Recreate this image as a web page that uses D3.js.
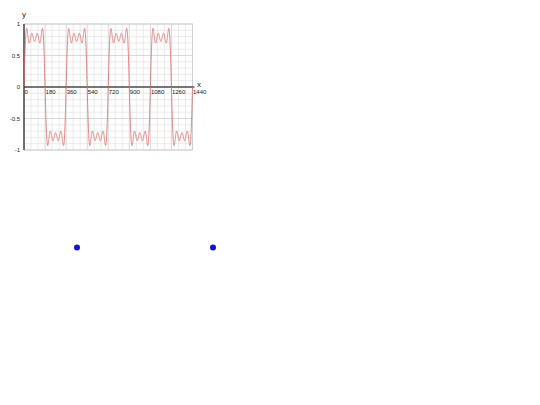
<!DOCTYPE html>
<html>
<head>
<meta charset="utf-8">
<script src="https://cdn.jsdelivr.net/npm/d3@7"></script>
<style>
  body { margin: 0; background: #fff; }
  svg { display: block; font-family: "Liberation Sans", Arial, sans-serif; }
</style>
</head>
<body>
<div id="chart"></div>
<script>
// odd harmonics of the partial square-wave sum and their amplitudes (1/n)
const harmonics = [1, 3, 5, 7];
const amplitudes = [1, 0.3333, 0.2, 0.1429];

const xTicks = [0, 180, 360, 540, 720, 900, 1080, 1260, 1440];
const yTicks = [-1, -0.5, 0, 0.5, 1];
const yTickLabels = ["-1", "-0.5", "0", "0.5", "1"];

// the two free points under the board
const pointsX = [77, 213];
const pointsY = [247.5, 247.5];

const width = 540, height = 405;
const plotLeft = 24, plotRight = 192.5, plotTop = 24, plotBottom = 150;

const svg = d3.select("#chart").append("svg")
    .attr("width", width)
    .attr("height", height);

const x = d3.scaleLinear().domain([0, 1440]).range([plotLeft, plotRight]);
const y = d3.scaleLinear().domain([-1, 1]).range([plotBottom, plotTop]);

// minor grid
const grid = svg.append("g");
grid.selectAll(".vmin")
    .data(d3.range(0, 1441, 60))
    .enter().append("line")
    .attr("x1", d => x(d)).attr("x2", d => x(d))
    .attr("y1", plotTop).attr("y2", plotBottom)
    .attr("stroke", d => d % 180 === 0 ? "#c8c8c8" : "#e2e2e2")
    .attr("stroke-width", 0.7);
grid.selectAll(".hmin")
    .data(d3.range(-10, 11).map(d => d / 10))
    .enter().append("line")
    .attr("x1", plotLeft).attr("x2", plotRight)
    .attr("y1", d => y(d)).attr("y2", d => y(d))
    .attr("stroke", d => Math.abs(d * 2 - Math.round(d * 2)) < 1e-6 ? "#c8c8c8" : "#e2e2e2")
    .attr("stroke-width", 0.7);

// frame
svg.append("rect")
    .attr("x", plotLeft).attr("y", plotTop)
    .attr("width", plotRight - plotLeft).attr("height", plotBottom - plotTop)
    .attr("fill", "none").attr("stroke", "#cccccc").attr("stroke-width", 0.8);

// axes
svg.append("line")
    .attr("x1", plotLeft).attr("x2", plotRight + 2)
    .attr("y1", y(0)).attr("y2", y(0))
    .attr("stroke", "#000").attr("stroke-width", 1);
svg.append("line")
    .attr("x1", x(0)).attr("x2", x(0))
    .attr("y1", plotTop).attr("y2", plotBottom)
    .attr("stroke", "#000").attr("stroke-width", 1);

// tick labels
svg.selectAll(".xt")
    .data(xTicks)
    .enter().append("text")
    .attr("x", d => x(d) + 0.5)
    .attr("y", y(0) + 7)
    .attr("font-size", 6)
    .attr("fill", "#222")
    .text(d => d);
svg.selectAll(".yt")
    .data(yTicks)
    .enter().append("text")
    .attr("x", plotLeft - 4)
    .attr("y", d => y(d) + 2)
    .attr("text-anchor", "end")
    .attr("font-size", 6)
    .attr("fill", "#222")
    .text((d, i) => yTickLabels[i]);

svg.append("text").attr("x", 199).attr("y", 87).attr("font-size", 8)
    .attr("text-anchor", "middle").attr("fill", "#222").text("x");
svg.append("text").attr("x", 24).attr("y", 17).attr("font-size", 8)
    .attr("text-anchor", "middle").attr("fill", "#222").text("y");

// curve: partial Fourier sum drawn through the scales
const samples = d3.range(0, 1440.5, 0.5).map(deg => {
    const t = deg * Math.PI / 180;
    let v = 0;
    harmonics.forEach((n, i) => { v += amplitudes[i] * Math.sin(n * t); });
    return [deg, v];
});
svg.append("path")
    .datum(samples)
    .attr("fill", "none")
    .attr("stroke", "#e06666")
    .attr("stroke-width", 0.8)
    .attr("d", d3.line().x(d => x(d[0])).y(d => y(d[1])));

// blue points
svg.selectAll(".pt")
    .data(pointsX)
    .enter().append("circle")
    .attr("cx", d => d)
    .attr("cy", (d, i) => pointsY[i])
    .attr("r", 3)
    .attr("fill", "#1010e0");
</script>
</body>
</html>
